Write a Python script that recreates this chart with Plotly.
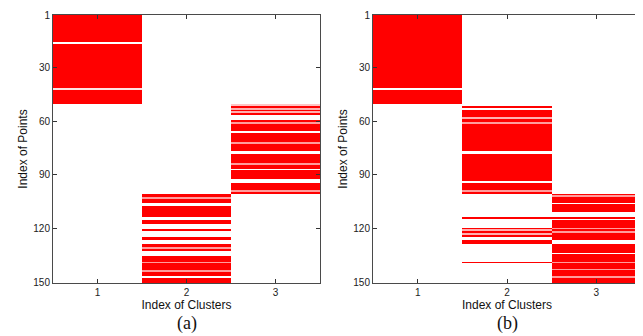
import plotly.graph_objects as go

# ---------------- data ----------------
points = list(range(1, 151))          # index of points (rows)
clusters = [1, 2, 3]                  # index of clusters (columns)
y_ticks = [1, 30, 60, 90, 120, 150]
captions = ["(a)", "(b)"]

# membership strength: 1 = red, ~0.5 = faint line, 0 = gap
# panel (a)
A1_RANGE = (1, 50)
A1_EXCEPT = {16: 0.0, 42: 0.15}
A2_RANGE = (101, 150)
A2_EXCEPT = {103: 0.5, 106: 0, 107: 0, 114: 0, 115: 0, 118: 0, 119: 0, 120: 0,
             122: 0, 123: 0, 124: 0, 127: 0, 128: 0, 131: 0.5, 133: 0, 134: 0,
             135: 0, 139: 0.5, 144: 0.5, 147: 0}
A3_RANGE = (51, 100)
A3_EXCEPT = {51: 0.3, 53: 0.4, 55: 0.4, 57: 0, 58: 0, 59: 0, 61: 0.5, 66: 0,
             72: 0.5, 77: 0, 78: 0, 84: 0.5, 87: 0, 93: 0, 94: 0, 99: 0.5}

# panel (b)
B1_RANGE = (1, 50)
B1_EXCEPT = {42: 0.0}
B2_RANGE = (51, 100)
B2_EXCEPT = {51: 0, 53: 0, 58: 0.4, 61: 0.5, 77: 0, 78: 0, 94: 0, 99: 0.5}
B2_EXTRA = {114: 1, 120: 1, 121: 0.4, 122: 1, 123: 0.4, 124: 1, 127: 1, 128: 1, 139: 1}
B3_RANGE = (101, 150)
B3_EXCEPT = {102: 0.5, 106: 0, 111: 0, 112: 0, 113: 0, 115: 0, 120: 0.5, 122: 0.5,
             127: 0, 128: 0, 134: 0, 139: 0.5, 143: 0.5, 147: 0.5}


def column(rng, except_, extra=None):
    col = []
    for p in points:
        v = 1.0 if rng[0] <= p <= rng[1] else 0.0
        if p in except_:
            v = except_[p]
        if extra and p in extra:
            v = extra[p]
        col.append(v)
    return col


def matrix(cols):
    return [[c[i] for c in cols] for i in range(len(points))]


zA = matrix([column(A1_RANGE, A1_EXCEPT), column(A2_RANGE, A2_EXCEPT), column(A3_RANGE, A3_EXCEPT)])
zB = matrix([column(B1_RANGE, B1_EXCEPT), column(B2_RANGE, B2_EXCEPT, B2_EXTRA), column(B3_RANGE, B3_EXCEPT)])

# ---------------- figure ----------------
# the page body has an 8 px margin, so the figure is placed 8 px in from the window corner
OFF = 8
W, H = 643 - OFF, 336 - OFF
cscale = [[0, "#ffffff"], [0.5, "#ff9c9c"], [1, "#ff0000"]]

fig = go.Figure()
fig.add_trace(go.Heatmap(z=zA, x=clusters, y=points, colorscale=cscale, zmin=0, zmax=1,
                         showscale=False, hoverinfo="skip", xaxis="x", yaxis="y"))
fig.add_trace(go.Heatmap(z=zB, x=clusters, y=points, colorscale=cscale, zmin=0, zmax=1,
                         showscale=False, hoverinfo="skip", xaxis="x2", yaxis="y2"))

font_sans = "Liberation Sans, Arial, sans-serif"


def px_x(v):
    return (v - OFF) / W


def px_y(v):
    return 1 - (v - OFF) / H


ydom = [px_y(283), px_y(15)]
xdoms = [[px_x(53), px_x(320)], [px_x(373), px_x(641)]]

common_axis = dict(showline=True, linecolor="#4a4a4a", linewidth=1, mirror="ticks",
                   ticks="inside", ticklen=4, tickcolor="#333", showgrid=False,
                   zeroline=False, automargin=False,
                   tickfont=dict(family=font_sans, size=10, color="#222"))

layout = dict(width=W, height=H, margin=dict(l=0, r=0, t=0, b=0, autoexpand=False),
              paper_bgcolor="white", plot_bgcolor="white", showlegend=False)

for i, suffix in enumerate(["", "2"]):
    layout["xaxis" + suffix] = dict(
        domain=xdoms[i], range=[0.5, 3.5], tickvals=clusters,
        anchor="y" + suffix,
        title=dict(text="Index of Clusters", font=dict(family=font_sans, size=12, color="#111"),
                   standoff=2),
        **common_axis)
    layout["yaxis" + suffix] = dict(
        domain=ydom, range=[150.5, 0.5], tickvals=y_ticks,
        anchor="x" + suffix,
        title=dict(text="Index of Points", font=dict(family=font_sans, size=12, color="#111"),
                   standoff=3),
        **common_axis)

fig.update_layout(**layout)

for i, cap in enumerate(captions):
    fig.add_annotation(text=cap, xref="paper", yref="paper",
                       x=(xdoms[i][0] + xdoms[i][1]) / 2, y=px_y(323),
                       xanchor="center", yanchor="middle", showarrow=False,
                       font=dict(family="Liberation Serif, Times New Roman, serif", size=18, color="#111"))

fig.write_html("out.html")
